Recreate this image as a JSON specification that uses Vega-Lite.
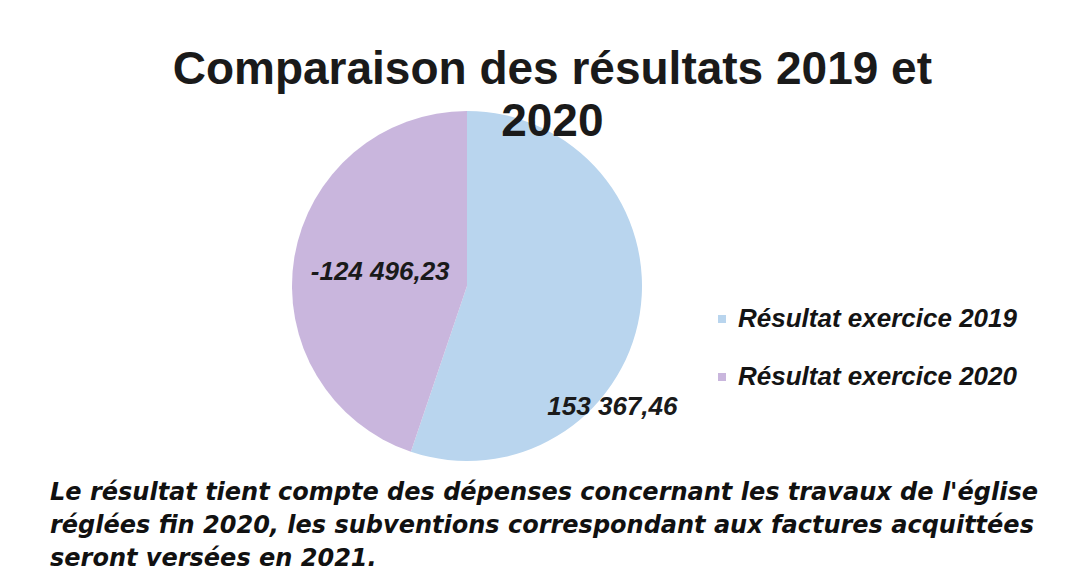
{
  "$schema": "https://vega.github.io/schema/vega-lite/v6.json",
  "background": "white",
  "padding": {"left": 50, "top": 47, "right": 0, "bottom": 0},
  "config": {"view": {"stroke": null}, "font": "Liberation Sans"},
  "title": {
    "text": ["Comparaison des résultats 2019 et", "2020"],
    "font": "Liberation Sans",
    "fontSize": 46,
    "fontWeight": "bold",
    "color": "#1a1a1a",
    "lineHeight": 52,
    "anchor": "middle",
    "dx": 0,
    "offset": -35
  },
  "spacing": 15,
  "vconcat": [
    {
      "width": 834,
      "height": 350,
      "data": {
        "values": [
          {"annee": 2019, "serie": "Résultat exercice 2019", "valeur": 153367.46, "part": 153367.46, "etiquette": "153 367,46"},
          {"annee": 2020, "serie": "Résultat exercice 2020", "valeur": -124496.23, "part": 124496.23, "etiquette": "-124 496,23"}
        ]
      },
      "encoding": {
        "theta": {"field": "part", "type": "quantitative", "stack": true},
        "order": {"field": "annee", "type": "ordinal"}
      },
      "layer": [
        {
          "mark": {"type": "arc", "radius": 175, "strokeWidth": 0},
          "encoding": {
            "color": {
              "field": "serie",
              "type": "nominal",
              "scale": {"range": ["#b9d5ee", "#c9b6dd"]},
              "legend": {
                "title": null,
                "orient": "none",
                "legendX": 659,
                "legendY": 195,
                "padding": 0,
                "symbolType": "square",
                "symbolSize": 64,
                "symbolStrokeWidth": 0,
                "labelFont": "Liberation Sans",
                "labelFontSize": 26,
                "labelFontWeight": "bold",
                "labelFontStyle": "italic",
                "labelColor": "#141414",
                "labelOffset": 3,
                "rowPadding": 32,
                "labelLimit": 400
              }
            }
          }
        },
        {
          "mark": {"type": "text", "radius": 88, "font": "Liberation Sans", "fontSize": 26, "fontWeight": "bold", "fontStyle": "italic", "align": "center", "baseline": "middle"},
          "encoding": {
            "detail": {"field": "serie"},
            "color": {"value": "#1a1a1a"},
            "text": {"condition": {"test": "datum.annee == 2020", "field": "etiquette"}, "value": ""}
          }
        },
        {
          "mark": {"type": "text", "radius": 189, "thetaOffset": 0.53, "font": "Liberation Sans", "fontSize": 26, "fontWeight": "bold", "fontStyle": "italic", "align": "center", "baseline": "middle"},
          "encoding": {
            "detail": {"field": "serie"},
            "color": {"value": "#1a1a1a"},
            "text": {"condition": {"test": "datum.annee == 2019", "field": "etiquette"}, "value": ""}
          }
        }
      ]
    },
    {
      "width": 990,
      "height": 99,
      "data": {
        "values": [
          {"ligne": 1, "texte": "Le résultat tient compte des  dépenses  concernant les travaux de l'église"},
          {"ligne": 2, "texte": "réglées fin 2020, les subventions correspondant aux factures acquittées"},
          {"ligne": 3, "texte": "seront versées en 2021."}
        ]
      },
      "mark": {"type": "text", "align": "left", "baseline": "middle", "font": "DejaVu Sans", "fontSize": 24, "fontWeight": "bold", "fontStyle": "italic", "color": "#111111"},
      "encoding": {
        "x": {"datum": 0, "type": "quantitative", "scale": {"domain": [0, 1]}, "axis": null},
        "y": {"field": "ligne", "type": "ordinal", "scale": {"type": "point", "padding": 0.5}, "axis": null},
        "text": {"field": "texte"}
      }
    }
  ]
}
